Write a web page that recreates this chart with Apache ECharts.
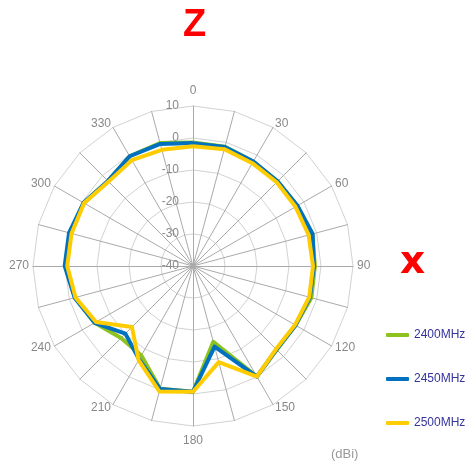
<!DOCTYPE html>
<html>
<head>
<meta charset="utf-8">
<script src="https://cdn.jsdelivr.net/npm/echarts@6/dist/echarts.min.js"></script>
<style>
html,body{margin:0;padding:0;background:#fff;}
#c{width:465px;height:466px;}
</style>
</head>
<body>
<div id="c"></div>
<script>
// Angles (degrees, clockwise from top)
const angles = [0,15,30,45,60,75,90,105,120,135,150,165,180,195,210,225,240,255,270,285,300,315,330,345];
const angleLabels = ['0','','30','','60','','90','','120','','150','','180','','210','','240','','270','','300','','330',''];
const radialTicks = [-40,-30,-20,-10,0,10];
const seriesNames = ['2400MHz','2450MHz','2500MHz'];
const gain2400 = [-1.4,-1.4,-2.3,-2.7,-2.4,-1.4,-1.9,-1.7,-3.0,-3.0,-0.1,-15.5,-0.7,-0.3,-7.7,-8.2,-4.5,-1.9,-0.2,-0.2,-0.6,-2.5,-0.4,-0.2];
const gain2450 = [-1.6,-1.5,-2.3,-2.6,-2.3,-1.3,-2.2,-2.2,-3.0,-3.1,-0.1,-13.9,-0.7,-0.2,-6.3,-10.1,-4.5,-1.7,0.1,0.1,-0.5,-2.4,-0.4,-0.5];
const gain2500 = [-2.6,-2.2,-2.9,-3.0,-3.0,-2.6,-2.5,-2.4,-3.2,-3.3,-0.1,-8.9,-0.7,0.6,-6.0,-13.0,-5.0,-2.0,-0.7,-0.7,-0.7,-2.7,-1.8,-2.4];
const colors = ['#8dc21f','#0070c0','#ffcc00'];

// ECharts radar runs counter-clockwise; reorder so angles go clockwise
const n = angles.length;
const order = angles.map((_, i) => (n - i) % n);
const rMin = radialTicks[0], rMax = radialTicks[radialTicks.length - 1];

const indicator = order.map((k, i) => {
  const ind = { name: angleLabels[k], min: rMin, max: rMax };
  if (i === 0) ind.axisLabel = { show: true };
  return ind;
});

const allData = [gain2400, gain2450, gain2500];

const chart = echarts.init(document.getElementById('c'), null, {renderer: 'canvas'});
chart.setOption({
  animation: false,
  backgroundColor: '#fff',
  title: [
    { text: 'Z', left: 178, top: 2, textStyle: { color: '#ff0000', fontSize: 38, fontWeight: 'bold', fontFamily: 'Liberation Sans' } },
    { text: 'x', left: 395, top: 238, textStyle: { color: '#ff0000', fontSize: 39, fontWeight: 'bold', fontFamily: 'DejaVu Sans' } },
    { text: '(dBi)', left: 331, top: 448, padding: 0, textStyle: { color: '#999', fontSize: 13, fontWeight: 'normal', fontFamily: 'Liberation Sans' } }
  ],
  legend: {
    orient: 'vertical',
    left: 386,
    top: 329,
    padding: 0,
    itemGap: 32,
    itemWidth: 23,
    itemHeight: 4,
    icon: 'roundRect',
    textStyle: { color: '#333399', fontSize: 12, fontFamily: 'Liberation Sans' },
    data: seriesNames
  },
  radar: {
    center: [193, 266],
    radius: 160,
    startAngle: 90,
    shape: 'polygon',
    splitNumber: radialTicks.length - 1,
    indicator: indicator,
    nameGap: 4,
    axisName: { color: '#888', fontSize: 12, fontFamily: 'Liberation Sans', padding: [5, 0] },
    axisLine: { show: true, lineStyle: { color: '#aaa', width: 1 } },
    axisTick: { show: false },
    axisLabel: { show: false, color: '#888', fontSize: 12, margin: 14, fontFamily: 'Liberation Sans' },
    splitLine: { lineStyle: { color: '#d2d2d2', width: 1 } },
    splitArea: { show: false }
  },
  series: seriesNames.map((name, s) => ({
    type: 'radar',
    name: name,
    symbol: 'none',
    z: 2 + s,
    lineStyle: { width: 4, color: colors[s] },
    itemStyle: { color: colors[s] },
    data: [{ name: name, value: order.map(k => allData[s][k]) }]
  }))
});
</script>
</body>
</html>
